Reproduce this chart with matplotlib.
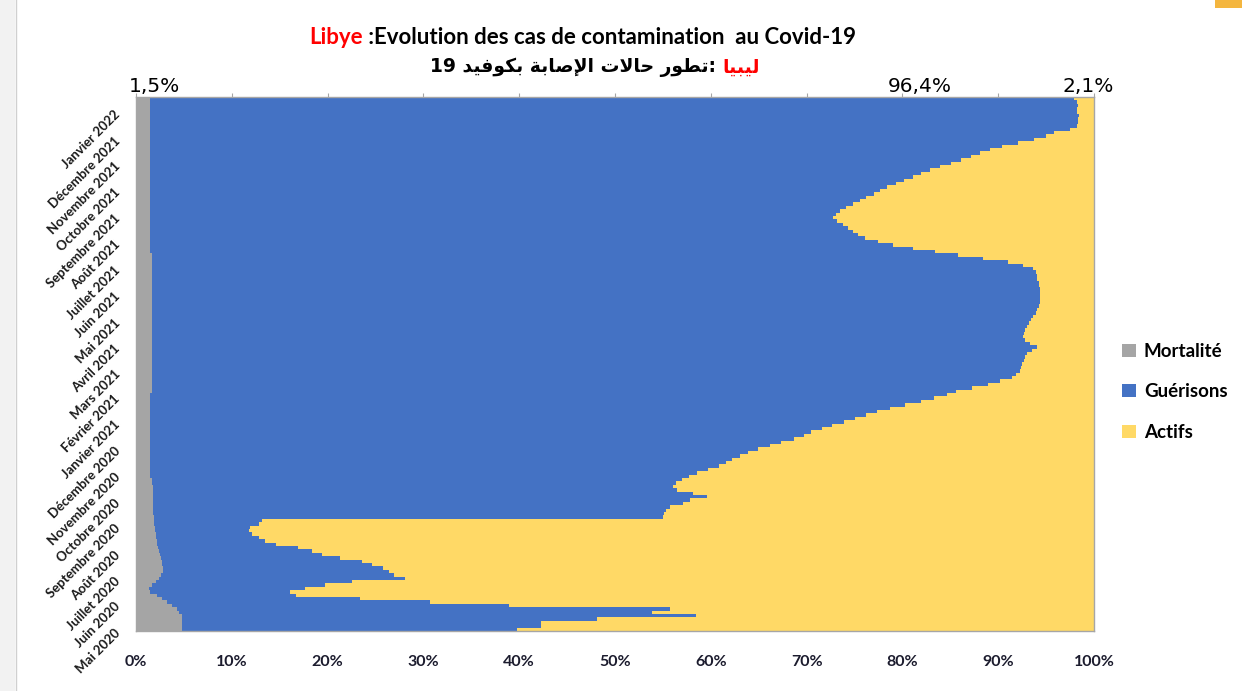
import numpy as np
import matplotlib
matplotlib.use("Agg")
import matplotlib.pyplot as plt
from matplotlib.patches import Patch, Rectangle
from matplotlib.lines import Line2D

# ---------------- data (share of cumulative cases, %) ----------------
start_date = np.datetime64("2020-05-01")
step_days = 4  # one bar = 4 days, from bottom (May 2020) to top (Jan 2022)

mortalite = [4.8, 4.8, 4.8, 4.8, 4.8, 4.5, 4.3, 3.8, 3.2, 2.7,
             2.2, 1.5, 1.4, 1.7, 2.1, 2.4, 2.6, 2.8, 2.8, 2.7,
             2.7, 2.6, 2.5, 2.4, 2.3, 2.2, 2.2, 2.1, 2.1, 2.0,
             2.0, 1.9, 1.9, 1.9, 1.8, 1.8, 1.8, 1.8, 1.8, 1.8,
             1.8, 1.8, 1.8, 1.7, 1.7] + [1.5] * 25 + [1.7] * 41 + [1.5] * 46

guerisons = [35.0, 37.5, 37.5, 43.3, 53.7, 49.4, 51.4, 35.1, 27.5, 20.7,
             14.5, 14.6, 16.2, 18.0, 20.4, 25.7, 24.3, 23.6, 23.0, 21.9,
             20.9, 18.7, 16.9, 16.0, 14.6, 12.4, 11.3, 10.7, 10.0, 9.8,
             9.9, 10.9, 11.3, 53.1, 53.3, 53.5, 53.9, 55.3, 56.0, 57.8,
             56.3, 54.7, 54.3, 54.7, 55.3, 56.2, 57.1, 58.2, 59.4, 60.1,
             60.7, 61.5, 62.4, 63.4, 64.7, 65.8, 67.2, 68.2, 69.0, 70.1,
             71.2, 72.4, 73.6, 74.7, 75.8, 77.2, 78.8, 80.4, 81.8, 83.2,
             83.9, 85.6, 87.2, 88.5, 89.7, 90.2, 90.6, 90.7, 90.8, 91.0,
             91.1, 91.3, 91.8, 92.4, 91.6, 91.1, 90.9, 91.0, 91.1, 91.3,
             91.5, 91.7, 91.9, 92.2, 92.4, 92.6, 92.7, 92.7, 92.7, 92.7,
             92.7, 92.6, 92.6, 92.4, 92.3, 92.2, 91.9, 90.9, 89.3, 86.7,
             84.1, 81.9, 79.6, 77.5, 76.0, 74.6, 73.9, 73.3, 72.8, 72.3,
             71.7, 71.3, 71.6, 72.0, 72.6, 73.3, 74.1, 74.7, 75.5, 76.2,
             76.9, 77.8, 78.7, 79.6, 80.4, 81.4, 82.4, 83.6, 84.6, 85.7,
             86.6, 87.6, 88.9, 90.6, 92.2, 93.5, 94.3, 96.0, 96.7, 96.8,
             96.8, 96.9, 96.7, 96.7, 96.8, 96.7, 96.4]

month_labels = ["Mai 2020", "Juin 2020", "Juillet 2020", "Août 2020",
                "Septembre 2020", "Octobre 2020", "Novembre 2020",
                "Décembre 2020", "Janvier 2021", "Février 2021", "Mars 2021",
                "Avril 2021", "Mai 2021", "Juin 2021", "Juillet 2021",
                "Août 2021", "Septembre 2021", "Octobre 2021",
                "Novembre 2021", "Décembre 2021", "Janvier 2022"]

series_names = ["Mortalité", "Guérisons", "Actifs"]
x_ticks = [0, 10, 20, 30, 40, 50, 60, 70, 80, 90, 100]

# ---------------- figure ----------------
W, H = 1242, 691
fig = plt.figure(figsize=(W / 100, H / 100), dpi=100)
fig.patch.set_facecolor("white")

# frame decorations of the original screenshot
fig.patches.append(Rectangle((0, 0), 15 / W, 1, transform=fig.transFigure,
                             facecolor="#f2f2f2", edgecolor="none", zorder=0))
fig.lines.append(Line2D([16 / W, 16 / W], [0, 1], transform=fig.transFigure,
                        color="#d0d0d0", lw=1))
fig.patches.append(Rectangle((1215 / W, 1 - 8 / H), 27 / W, 8 / H,
                             transform=fig.transFigure, facecolor="#f4b63f",
                             edgecolor="none"))

c_mort, c_guer, c_act = "#a5a5a5", "#4472c4", "#ffd966"

m = np.array(mortalite)
g = np.array(guerisons)
a = 100.0 - m - g
n = len(m)
ypos = np.arange(n) * step_days + step_days / 2

ax = fig.add_axes([136 / W, 1 - 631 / H, 958 / W, 534 / H])
ax.barh(ypos, m, height=step_days, color=c_mort, lw=0, antialiased=False)
ax.barh(ypos, g, left=m, height=step_days, color=c_guer, lw=0, antialiased=False)
ax.barh(ypos, a, left=m + g, height=step_days, color=c_act, lw=0, antialiased=False)

ax.set_xlim(0, 100)
ax.set_ylim(0, n * step_days)

for s in ax.spines.values():
    s.set_color("#a6a6a6")
    s.set_linewidth(1.0)

# x axis: labels at bottom, tiny ticks on top
ax.set_xticks(x_ticks)
ax.set_xticklabels([f"{v}%" for v in x_ticks], family="Lato",
                   fontweight="bold", fontsize=11.5, color="#1c1c2e")
ax.tick_params(axis="x", top=True, bottom=False, labeltop=False,
               labelbottom=True, direction="out", length=3,
               color="#a6a6a6", pad=14)

# y axis: month labels
months = np.arange(np.datetime64("2020-05"), np.datetime64("2022-02"),
                   dtype="datetime64[M]")
mpos = (months.astype("datetime64[D]") - start_date).astype(int)
ax.set_yticks(mpos)
ax.set_yticklabels(month_labels, rotation=45, rotation_mode="anchor",
                   ha="right", va="center", family="Lato",
                   fontweight="bold", fontsize=9.5, color="#1a1a1a")
ax.tick_params(axis="y", length=0, pad=13)

# latest-value labels above the plot
def fr(v):
    return f"{v:.1f}%".replace(".", ",")

top_labels = [(fr(m[-1]), 1.9), (fr(g[-1]), 81.8), (fr(a[-1]), 99.4)]
for txt, xv in top_labels:
    ax.text(xv, 1.019, txt, transform=ax.get_xaxis_transform(),
            ha="center", va="center", fontsize=14.5, color="#000000",
            family="DejaVu Sans")

# legend
handles = [Patch(facecolor=c, edgecolor="none") for c in (c_mort, c_guer, c_act)]
fig.legend(handles, series_names, loc="center left",
           bbox_to_anchor=(1113 / W, 1 - 392 / H), frameon=False,
           prop={"family": "Lato", "weight": "bold", "size": 13.5},
           handlelength=0.7, handleheight=0.7, handletextpad=0.45,
           labelspacing=1.25, borderpad=0)

# two-coloured titles
def two_color(parts, y_px, cx_px, **kw):
    texts = [fig.text(0, 1 - y_px / H, s, color=c, ha="left", va="center", **kw)
             for s, c in parts]
    fig.canvas.draw()
    r = fig.canvas.get_renderer()
    widths = [t.get_window_extent(r).width for t in texts]
    x = cx_px - sum(widths) / 2
    for t, w in zip(texts, widths):
        t.set_x(x / W)
        x += w

two_color([("Libye", "#ff0000"),
           (" :Evolution des cas de contamination  au Covid-19", "#000000")],
          37, 583, family="Lato", fontweight="bold", fontsize=16)

# Arabic line, written in visual order with contextual (presentation) forms
ar_libya = "\uFE8E\uFEF4\uFE92\uFEF4\uFEDF"               # ليبيا
ar_tatawur = "\uFEAD\uFEEE\uFEC4\uFE97"                    # تطور
ar_halat = "\uFE95\uFEFB\uFE8E\uFEA3"                      # حالات
ar_isaba = "\uFE94\uFE91\uFE8E\uFEBB\uFEF9\uFE8D"          # الإصابة
ar_covid = "\uFEAA\uFEF4\uFED3\uFEEE\uFEDC\uFE91"          # بكوفيد
ar_black = "19 " + ar_covid + " " + ar_isaba + " " + ar_halat + " " + ar_tatawur + ": "
two_color([(ar_black, "#000000"), (ar_libya, "#ff0000")],
          67, 595, family="DejaVu Sans", fontweight="bold", fontsize=13.5)

fig.savefig("out.png", dpi=100)
